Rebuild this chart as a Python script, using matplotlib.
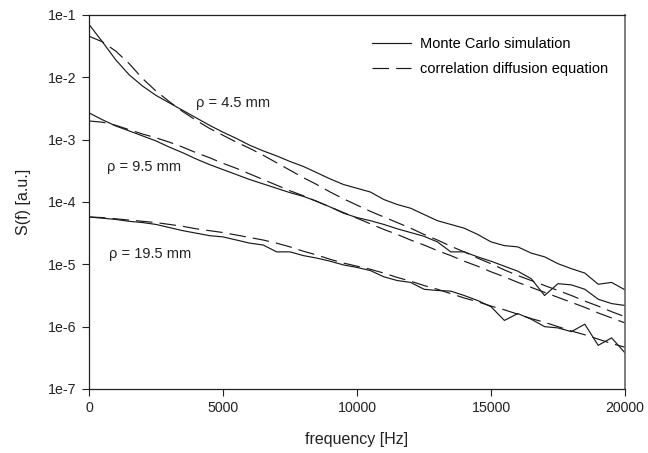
import numpy as np
import matplotlib
matplotlib.use("Agg")
import matplotlib.pyplot as plt
from matplotlib.ticker import NullLocator

plt.rcParams['font.family'] = ['Liberation Sans', 'DejaVu Sans']

# frequency grid [Hz]
freq = np.arange(0, 20001, 500)

# log10 of S(f)
mc_45 = [-1.15, -1.43, -1.72, -1.96, -2.14, -2.29, -2.41, -2.53, -2.65, -2.77,
         -2.88, -2.98, -3.09, -3.18, -3.26, -3.35, -3.43, -3.53, -3.63, -3.72,
         -3.78, -3.84, -3.96, -4.04, -4.10, -4.20, -4.30, -4.36, -4.42, -4.52,
         -4.64, -4.70, -4.72, -4.82, -4.88, -4.99, -5.07, -5.14, -5.32, -5.29,
         -5.41]
cde_45 = [-1.34, -1.43, -1.58, -1.78, -2.02, -2.22, -2.39, -2.55, -2.69, -2.82,
          -2.93, -3.04, -3.14, -3.25, -3.37, -3.49, -3.61, -3.72, -3.84, -3.95,
          -4.05, -4.15, -4.24, -4.33, -4.42, -4.52, -4.61, -4.71, -4.80, -4.90,
          -4.99, -5.09, -5.18, -5.26, -5.34, -5.42, -5.50, -5.59, -5.67, -5.76,
          -5.84]
mc_95 = [-2.57, -2.68, -2.78, -2.86, -2.94, -3.02, -3.12, -3.21, -3.31, -3.40,
         -3.48, -3.56, -3.64, -3.71, -3.78, -3.85, -3.91, -3.99, -4.08, -4.18,
         -4.25, -4.30, -4.36, -4.43, -4.49, -4.55, -4.64, -4.80, -4.80, -4.88,
         -4.95, -5.03, -5.11, -5.23, -5.50, -5.31, -5.33, -5.40, -5.56, -5.63,
         -5.66]
cde_95 = [-2.70, -2.72, -2.77, -2.84, -2.91, -2.97, -3.04, -3.12, -3.21, -3.29,
          -3.38, -3.46, -3.55, -3.64, -3.73, -3.82, -3.90, -3.99, -4.08, -4.17,
          -4.26, -4.35, -4.44, -4.52, -4.61, -4.69, -4.78, -4.86, -4.95, -5.03,
          -5.12, -5.20, -5.29, -5.37, -5.45, -5.53, -5.61, -5.69, -5.78, -5.86,
          -5.94]
mc_195 = [-4.24, -4.26, -4.28, -4.31, -4.33, -4.36, -4.41, -4.46, -4.50, -4.54,
          -4.56, -4.61, -4.66, -4.69, -4.80, -4.80, -4.86, -4.90, -4.95, -5.01,
          -5.05, -5.10, -5.20, -5.26, -5.29, -5.40, -5.42, -5.43, -5.50, -5.58,
          -5.68, -5.90, -5.79, -5.88, -6.00, -6.02, -6.08, -5.96, -6.30, -6.18,
          -6.42]
cde_195 = [-4.24, -4.25, -4.27, -4.29, -4.31, -4.33, -4.36, -4.39, -4.43, -4.46,
           -4.49, -4.53, -4.57, -4.61, -4.66, -4.72, -4.79, -4.85, -4.92, -4.98,
           -5.03, -5.08, -5.14, -5.21, -5.27, -5.34, -5.40, -5.47, -5.54, -5.60,
           -5.67, -5.73, -5.80, -5.87, -5.93, -6.00, -6.07, -6.13, -6.20, -6.27,
           -6.33]

labels = ["\u03c1 = 4.5 mm", "\u03c1 = 9.5 mm", "\u03c1 = 19.5 mm"]
label_pos = [(3990, 10 ** -2.415), (670, 10 ** -3.44), (750, 10 ** -4.84)]

ytick_vals = [1e-7, 1e-6, 1e-5, 1e-4, 1e-3, 1e-2, 1e-1]
ytick_labels = ["1e-7", "1e-6", "1e-5", "1e-4", "1e-3", "1e-2", "1e-1"]
xtick_vals = [0, 5000, 10000, 15000, 20000]

fig = plt.figure(figsize=(6.48, 4.53), dpi=100)
ax = fig.add_axes([0.1373, 0.1413, 0.8272, 0.8256])

lc = '#1a1a1a'
lw = 0.85
dash = (14, 6)

first = True
for mc, cde in [(mc_45, cde_45), (mc_95, cde_95), (mc_195, cde_195)]:
    ax.plot(freq, 10 ** np.array(mc), color=lc, lw=lw,
            label="Monte Carlo simulation" if first else None)
    ax.plot(freq, 10 ** np.array(cde), color=lc, lw=lw, dashes=dash,
            label="correlation diffusion equation" if first else None)
    first = False

for txt, (x, y) in zip(labels, label_pos):
    ax.text(x, y, txt, fontsize=10.5, ha='left', va='center', color='#222222')

ax.set_yscale('log')
ax.set_xlim(0, 20000)
ax.set_ylim(1e-7, 1e-1)
ax.set_yticks(ytick_vals, ytick_labels)
ax.yaxis.set_minor_locator(NullLocator())
ax.set_xticks(xtick_vals, [str(v) for v in xtick_vals])
ax.tick_params(axis='both', direction='out', length=5, width=0.8,
               labelsize=10.2, colors='#222222', pad=4)

for side in ['left', 'bottom', 'top']:
    ax.spines[side].set_color('#222222')
    ax.spines[side].set_linewidth(0.9)
ax.spines['right'].set_color('#666666')
ax.spines['right'].set_linewidth(1.2)

ax.set_xlabel("frequency [Hz]", fontsize=11.5, color='#222222', labelpad=12)
ax.set_ylabel("S(f) [a.u.]", fontsize=11.5, color='#222222', labelpad=12)

ax.legend(loc='upper left', bbox_to_anchor=(0.528, 0.942), frameon=False,
          fontsize=10.5, handlelength=2.7, handletextpad=0.6,
          labelspacing=0.75, borderpad=0, borderaxespad=0)

fig.savefig("out.png", dpi=100)
